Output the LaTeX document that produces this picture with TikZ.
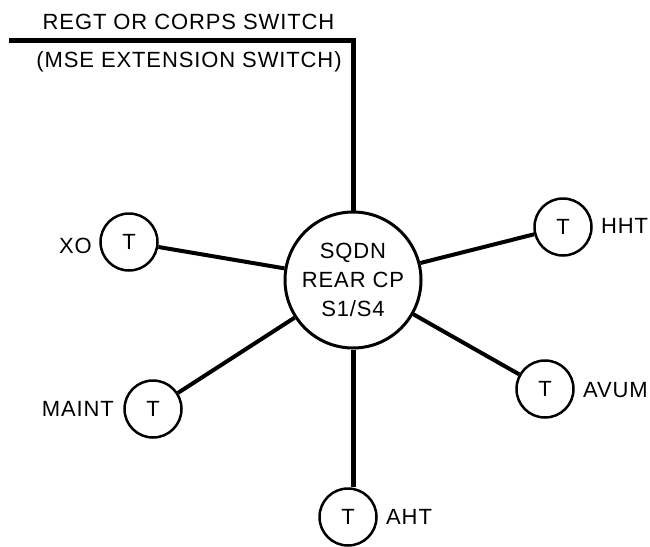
\documentclass[tikz,border=0pt]{standalone}
\usepackage{fontspec}
\setmainfont[LetterSpace=4.0]{Liberation Sans}
\begin{document}
\begin{tikzpicture}[x=1pt,y=-1pt,
  txt/.style={inner sep=0pt,font=\fontsize{22}{29}\selectfont},
  hub/.style={circle,draw,line width=3pt,minimum size=136pt,inner sep=0pt,align=center,font=\fontsize{22}{29}\selectfont},
  term/.style={circle,draw,line width=2.5pt,minimum size=57pt,inner sep=0pt,font=\fontsize{22}{29}\selectfont},
  link/.style={line width=4pt},
  trunk/.style={line width=5pt,line join=miter}]
\useasboundingbox (0,0) rectangle (650,546);
\node[hub] (c) at (353,280) {SQDN\\REAR CP\\S1/S4};
\node[term] (xo) at (129,242) {T};
\node[term] (hht) at (563,227) {T};
\node[term] (maint) at (153,409) {T};
\node[term] (avum) at (545,389) {T};
\node[term] (aht) at (348,517) {T};
\node[txt,anchor=east] (lxo) at (92,246) {XO};
\node[txt,anchor=west] (lhht) at (601,226) {HHT};
\node[txt,anchor=east] (lmaint) at (114,409) {MAINT};
\node[txt,anchor=west] (lavum) at (583,390) {AVUM};
\node[txt,anchor=west] (laht) at (386,517) {AHT};
\node[txt] (t1) at (188.5,22) {REGT OR CORPS SWITCH};
\node[txt] (t2) at (189,62) {(MSE EXTENSION SWITCH)};
\coordinate (tl) at (9,40);
\draw[trunk] (tl) -- (tl -| c.north) -- (c.north);
\draw[link] (c) -- (xo);
\draw[link] (c) -- (hht);
\draw[link] (c) -- (maint);
\draw[link] (c) -- (avum);
\draw[trunk] (c.south) -- (c.south |- aht.north);
\end{tikzpicture}
\end{document}
